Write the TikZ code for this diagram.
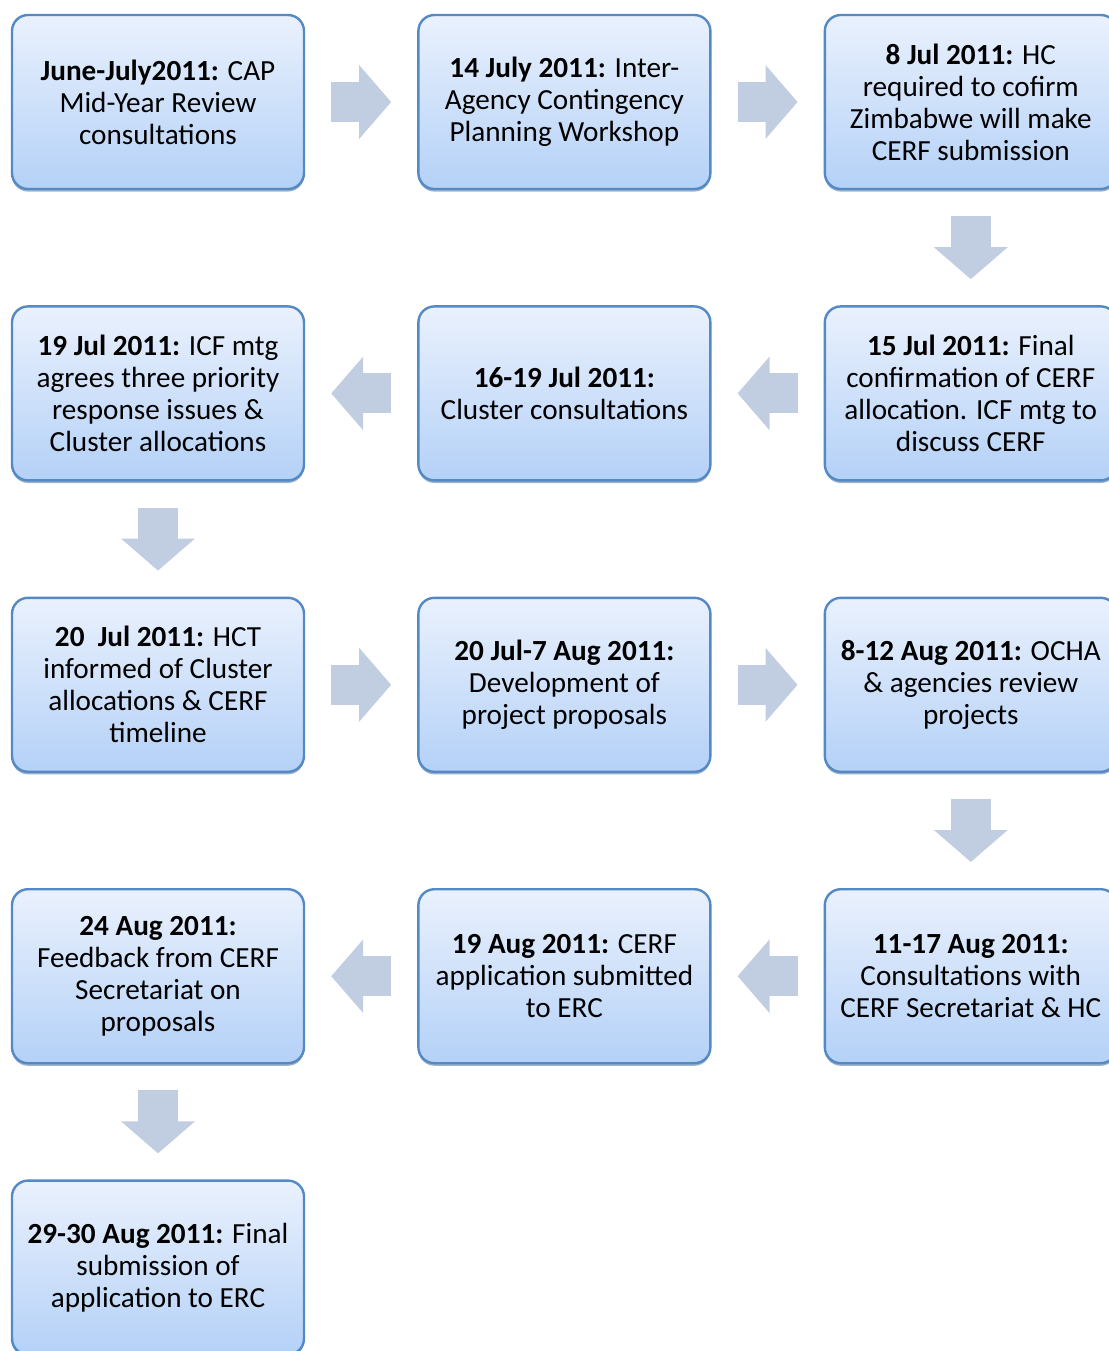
\documentclass[tikz,border=0pt]{standalone}
\usepackage{fontspec}
\setmainfont{Carlito}
\usetikzlibrary{positioning,arrows.meta,shadows}
\definecolor{box-edge}{RGB}{84,137,196}
\definecolor{box-top}{RGB}{234,241,253}
\definecolor{box-bottom}{RGB}{180,209,247}
\definecolor{arrow-fill}{RGB}{193,206,226}
\tikzset{
    step-box/.style = {draw=box-edge, line width=1.2pt, rectangle, rounded corners=8pt, top color=box-top, bottom color=box-bottom, minimum width=146pt, minimum height=87pt, align=center, font=\fontsize{14.6}{16}\selectfont, drop shadow={shadow xshift=0pt, shadow yshift=-1.3pt, fill=box-edge!75!black, opacity=0.5}},
    flow-arrow/.style = {draw=arrow-fill, line width=20pt, -{Triangle[width=36pt,length=16pt]}, shorten <=13pt, shorten >=13pt},
}
\begin{document}
\begin{tikzpicture}[x=0.5pt, y=-0.5pt, node distance=57.5pt and 56pt]
\useasboundingbox (0,0) rectangle (1109,1351);
% first row
\node[step-box] (jun) at (158,102) {\textbf{June-July2011:} CAP\\Mid-Year Review\\consultations};
\node[step-box, right=of jun] (jul14) {\textbf{14 July 2011:} Inter-\\Agency Contingency\\Planning Workshop};
\node[step-box, right=of jul14] (jul8) {\textbf{8 Jul 2011:} HC\\required to cofirm\\Zimbabwe will make\\CERF submission};
% second row
\node[step-box, below=of jul8] (jul15) {\textbf{15 Jul 2011:} Final\\confirmation of CERF\\allocation. ICF mtg to\\discuss CERF};
\node[step-box, left=of jul15] (jul16) {\textbf{16-19 Jul 2011:}\\Cluster consultations};
\node[step-box, left=of jul16] (jul19) {\textbf{19 Jul 2011:} ICF mtg\\agrees three priority\\response issues \&\\Cluster allocations};
% third row
\node[step-box, below=of jul19] (jul20) {\textbf{20\ \ Jul 2011:} HCT\\informed of Cluster\\allocations \& CERF\\timeline};
\node[step-box, right=of jul20] (aug7) {\textbf{20 Jul-7 Aug 2011:}\\Development of\\project proposals};
\node[step-box, right=of aug7] (aug8) {\textbf{8-12 Aug 2011:} OCHA\\\& agencies review\\projects};
% fourth row
\node[step-box, below=of aug8] (aug11) {\textbf{11-17 Aug 2011:}\\Consultations with\\CERF Secretariat \& HC};
\node[step-box, left=of aug11] (aug19) {\textbf{19 Aug 2011:} CERF\\application submitted\\to ERC};
\node[step-box, left=of aug19] (aug24) {\textbf{24 Aug 2011:}\\Feedback from CERF\\Secretariat on\\proposals};
% last row
\node[step-box, below=of aug24] (aug29) {\textbf{29-30 Aug 2011:} Final\\submission of\\application to ERC};

\draw[flow-arrow] (jun) -- (jul14);
\draw[flow-arrow] (jul14) -- (jul8);
\draw[flow-arrow] (jul8) -- (jul15);
\draw[flow-arrow] (jul15) -- (jul16);
\draw[flow-arrow] (jul16) -- (jul19);
\draw[flow-arrow] (jul19) -- (jul20);
\draw[flow-arrow] (jul20) -- (aug7);
\draw[flow-arrow] (aug7) -- (aug8);
\draw[flow-arrow] (aug8) -- (aug11);
\draw[flow-arrow] (aug11) -- (aug19);
\draw[flow-arrow] (aug19) -- (aug24);
\draw[flow-arrow] (aug24) -- (aug29);
\end{tikzpicture}
\end{document}
